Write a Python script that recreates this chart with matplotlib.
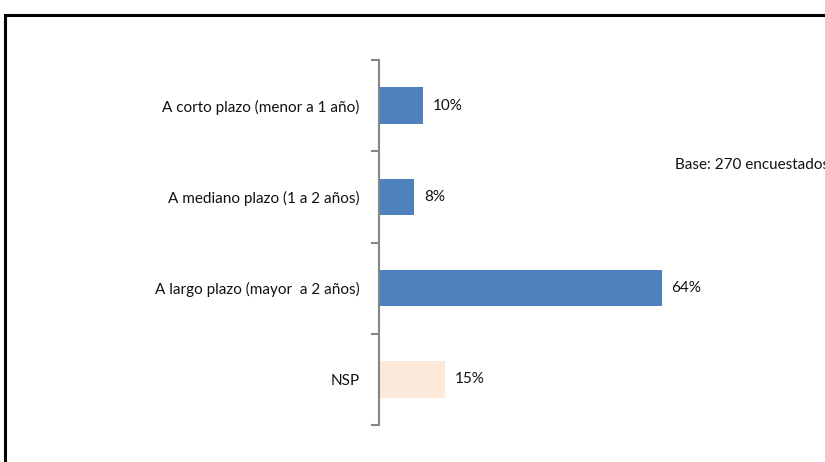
import matplotlib.pyplot as plt
import matplotlib.patches as patches
import numpy as np

categories = ["A corto plazo (menor a 1 año)", "A mediano plazo (1 a 2 años)",
              "A largo plazo (mayor  a 2 años)", "NSP"]
values = [10, 8, 64, 15]
labels = ["10%", "8%", "64%", "15%"]
colors = ["#4F81BD", "#4F81BD", "#4F81BD", "#FDE9D9"]
note = "Base: 270 encuestados"

plt.rcParams['font.family'] = ['Lato', 'DejaVu Sans']

W, H = 825, 462
fig = plt.figure(figsize=(W / 100, H / 100), dpi=100)

# frame around the chart (open at right and bottom, as in the source)
fig.patches.append(patches.Rectangle((5 / W, -0.1), 1.2, (H - 15) / H + 0.1,
                                     transform=fig.transFigure, fill=False,
                                     edgecolor='black', linewidth=2.2))

ax = fig.add_axes([379 / W, (H - 425) / H, 442 / W, 365 / H])
y = np.arange(len(categories))
ax.barh(y, values, height=0.4, color=colors)
ax.set_xlim(0, 100)
ax.set_ylim(len(categories) - 0.5, -0.5)

for i, (v, lab) in enumerate(zip(values, labels)):
    ax.annotate(lab, (v, i), xytext=(7, 0), textcoords='offset points',
                va='center', ha='left', fontsize=11, color='#111111')

ax.set_yticks(y)
ax.set_yticklabels(categories, fontsize=11, color='#111111')
ax.tick_params(axis='y', which='major', length=0, pad=14)
ax.set_yticks(np.arange(len(categories) + 1) - 0.5, minor=True)
ax.tick_params(axis='y', which='minor', length=6, width=1.5, color='#868686')
ax.set_xticks([])
for s in ['top', 'right', 'bottom']:
    ax.spines[s].set_visible(False)
ax.spines['left'].set_color('#868686')
ax.spines['left'].set_linewidth(1.5)

fig.text(675 / W, 1 - 165 / H, note, fontsize=11, color='#111111', va='center')

fig.savefig("out.png", dpi=100)
